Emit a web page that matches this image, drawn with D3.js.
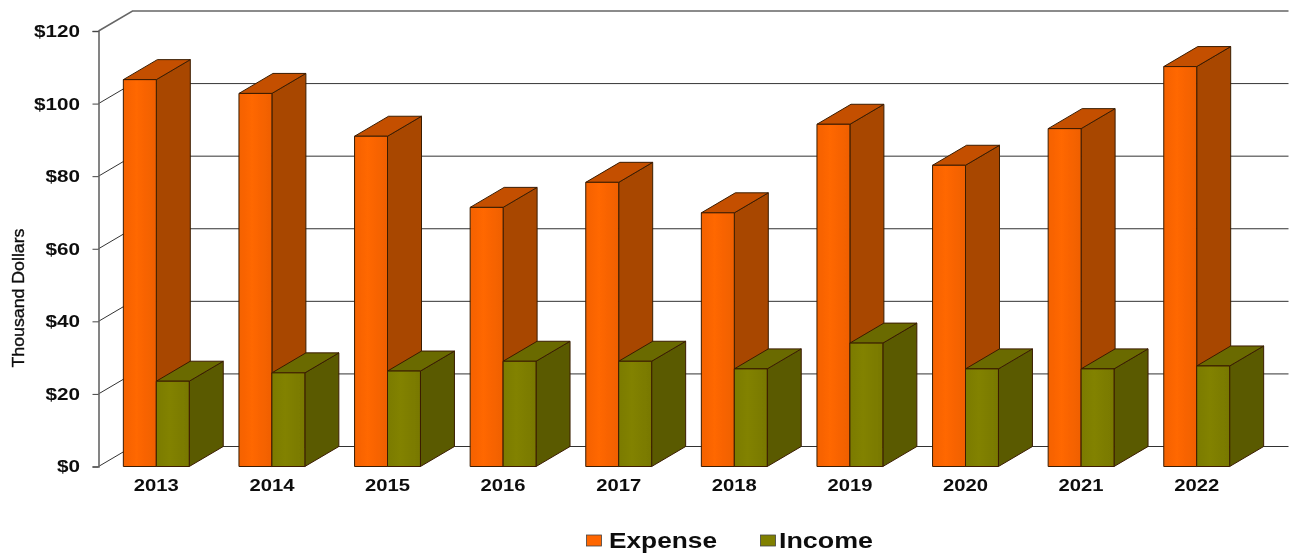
<!DOCTYPE html>
<html><head><meta charset="utf-8">
<script src="https://cdn.jsdelivr.net/npm/d3@7"></script>
<style>html,body{margin:0;padding:0;background:#fff}svg{display:block}text{font-family:"Liberation Sans",Arial,sans-serif;fill:#111}</style>
</head><body><div id="chart"></div>
<script>
const categories=["2013","2014","2015","2016","2017","2018","2019","2020","2021","2022"];
const expense=[106.6,102.8,91,71.4,78.3,69.9,94.3,83,93.1,110.2];
const income=[23.5,25.8,26.3,29,29,26.9,34,26.9,26.9,27.7];
const seriesNames=["Expense","Income"];
const seriesValues=[expense,income];
const yTicks=[0,20,40,60,80,100,120];

const W=1290,H=554,depthX=34,depthY=-20;
const svg=d3.select("#chart").append("svg").attr("width",W).attr("height",H);
const x=d3.scaleBand().domain(categories).range([98.5,1254.5]).paddingInner(.43).paddingOuter(.215);
const xs=d3.scaleBand().domain(seriesNames).range([0,x.bandwidth()]);
const y=d3.scaleLinear().domain([0,120]).range([466.5,31]);
const color=d3.scaleOrdinal().domain(seriesNames).range(["#ff6600","#808000"]);
const sideCol=d3.scaleOrdinal().domain(seriesNames).range(["#a84600","#5a5a00"]);
const topCol=d3.scaleOrdinal().domain(seriesNames).range(["#c45000","#6a6a00"]);
const defs=svg.append("defs");
seriesNames.forEach((s,i)=>{
  const g=defs.append("linearGradient").attr("id","g"+i);
  const c=d3.color(color(s));
  g.append("stop").attr("offset","0").attr("stop-color",c.darker(.12));
  g.append("stop").attr("offset",".4").attr("stop-color",c.brighter(.04));
  g.append("stop").attr("offset","1").attr("stop-color",c.darker(.18));
});
defs.append("filter").attr("id","soft").append("feGaussianBlur").attr("stdDeviation",.45);
const root=svg.append("g").attr("filter","url(#soft)");
const [x0,x1]=x.range();
// grid
const grid=root.append("g");
yTicks.forEach(t=>{
  const yy=y(t),top=t===120;
  grid.append("path").attr("fill","none").attr("stroke",top?"#666":"#333").attr("stroke-width",top?1.5:1)
    .attr("d",d3.line()([[x0,yy],[x0+depthX,yy+depthY],[x1+depthX,yy+depthY]]));
});
// axes
const yAxis=root.append("g").attr("transform",`translate(${x0},0)`)
  .call(d3.axisLeft(y).tickValues(yTicks).tickFormat(d=>"$"+d).tickSize(6).tickPadding(12.5));
yAxis.select(".domain").attr("stroke","#666").attr("stroke-width",1.6);
yAxis.selectAll(".tick line").attr("stroke","#444");
yAxis.selectAll("text").attr("font-size",17).attr("font-weight","bold").style("font-family",'"Liberation Sans"').attr("fill","#111")
  .attr("lengthAdjust","spacingAndGlyphs").attr("textLength",d=>("$"+d).length*11.5);
const xAxis=root.append("g").attr("transform",`translate(0,${y(0)})`)
  .call(d3.axisBottom(x).tickSize(0).tickPadding(12.5));
xAxis.select(".domain").remove();
xAxis.selectAll("text").attr("font-size",16.5).attr("font-weight","bold").style("font-family",'"Liberation Sans"').attr("fill","#111")
  .attr("lengthAdjust","spacingAndGlyphs").attr("textLength",45);
// bars
const poly=(g,pts,fill)=>g.append("path").attr("d",d3.line()(pts)+"Z").attr("fill",fill).attr("stroke","#3a1c00").attr("stroke-width",1).attr("stroke-linejoin","round");
categories.forEach((c,ci)=>{
  const g=root.append("g");
  seriesNames.forEach((s,si)=>{
    const a=x(c)+xs(s),b=a+xs.bandwidth(),t=y(seriesValues[si][ci]),z=y(0);
    poly(g,[[b,z],[b+depthX,z+depthY],[b+depthX,t+depthY],[b,t]],sideCol(s));
    poly(g,[[a,t],[a+depthX,t+depthY],[b+depthX,t+depthY],[b,t]],topCol(s));
    poly(g,[[a,z],[a,t],[b,t],[b,z]],`url(#g${si})`);
  });
});
// y title
root.append("text").attr("transform","translate(23.5,298) rotate(-90)").attr("text-anchor","middle")
  .attr("font-size",16).attr("textLength",139).attr("lengthAdjust","spacingAndGlyphs")
  .attr("stroke","#111").attr("stroke-width",.35).text("Thousand\u00A0Dollars");
// legend
const legX=d3.scaleOrdinal().domain(seriesNames).range([586,760]);
const legTextX=d3.scaleOrdinal().domain(seriesNames).range([609,779]);
const legW=d3.scaleOrdinal().domain(seriesNames).range([108,94]);
seriesNames.forEach(s=>{
  root.append("rect").attr("x",legX(s)+.5).attr("y",535).attr("width",15).attr("height",11).attr("fill",color(s)).attr("stroke","#444").attr("stroke-width",.8);
  root.append("text").attr("x",legTextX(s)).attr("y",548).attr("font-size",21.5).attr("font-weight","bold")
    .attr("lengthAdjust","spacingAndGlyphs").attr("textLength",legW(s)).text(s);
});
</script></body></html>
